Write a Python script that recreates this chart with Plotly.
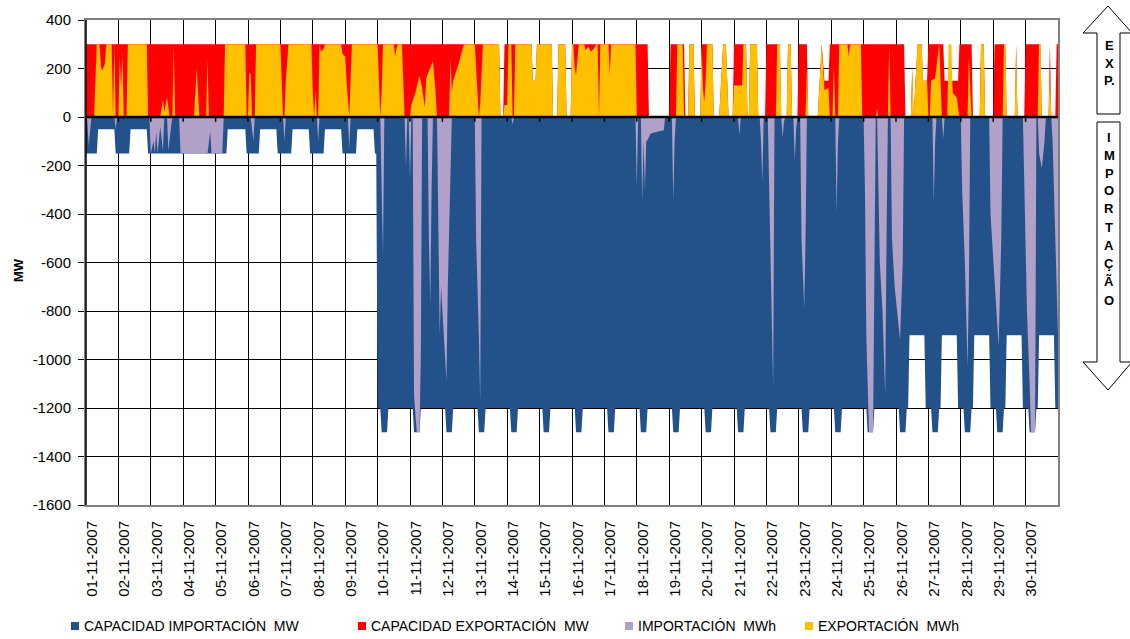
import plotly.graph_objects as go

# ---------------- DATA (hour of month, MW) ----------------
DAY_LABELS = ["01-11-2007", "02-11-2007", "03-11-2007", "04-11-2007", "05-11-2007",
              "06-11-2007", "07-11-2007", "08-11-2007", "09-11-2007", "10-11-2007",
              "11-11-2007", "12-11-2007", "13-11-2007", "14-11-2007", "15-11-2007",
              "16-11-2007", "17-11-2007", "18-11-2007", "19-11-2007", "20-11-2007",
              "21-11-2007", "22-11-2007", "23-11-2007", "24-11-2007", "25-11-2007",
              "26-11-2007", "27-11-2007", "28-11-2007", "29-11-2007", "30-11-2007"]

Y_TICKS = [400, 200, 0, -200, -400, -600, -800, -1000, -1200, -1400, -1600]
Y_LABELS = ["400", "200", "0", "-200", "-400", "-600", "-800", "-1000", "-1200", "-1400", "-1600"]

SERIES_NAMES = ["CAPACIDAD IMPORTACIÓN  MW", "CAPACIDAD EXPORTACIÓN  MW",
                "IMPORTACIÓN  MWh", "EXPORTACIÓN  MWh"]

CAP_IMPORT = [
    (0, -150), (8, -150), (9, -50), (21, -50), (22, -150),
    (32, -150), (33, -50), (45, -50), (46, -150),
    (104, -150), (105, -50), (118, -50), (119, -150),
    (128, -150), (129, -50), (141, -50), (142, -150),
    (152, -150), (153, -50), (165, -50), (166, -150),
    (176, -150), (177, -50), (189, -50), (190, -150),
    (200, -150), (201, -50), (213, -50), (214, -150), (215, -150), (216, -1200),
    (218, -1200), (219, -1300), (223, -1300), (224, -1200),
    (242, -1200), (243, -1300), (247, -1300), (248, -1200),
    (266, -1200), (267, -1300), (271, -1300), (272, -1200),
    (290, -1200), (291, -1300), (295, -1300), (296, -1200),
    (314, -1200), (315, -1300), (319, -1300), (320, -1200),
    (338, -1200), (339, -1300), (343, -1300), (344, -1200),
    (362, -1200), (363, -1300), (367, -1300), (368, -1200),
    (386, -1200), (387, -1300), (391, -1300), (392, -1200),
    (410, -1200), (411, -1300), (415, -1300), (416, -1200),
    (434, -1200), (435, -1300), (439, -1300), (440, -1200),
    (458, -1200), (459, -1300), (463, -1300), (464, -1200),
    (482, -1200), (483, -1300), (487, -1300), (488, -1200),
    (506, -1200), (507, -1300), (511, -1300), (512, -1200),
    (530, -1200), (531, -1300), (535, -1300), (536, -1200),
    (554, -1200), (555, -1300), (559, -1300), (560, -1200),
    (578, -1200), (579, -1300), (583, -1300), (584, -1200),
    (602, -1200), (603, -1300), (607, -1300), (608, -1200),
    (609, -1200), (610, -900), (621, -900), (622, -1200),
    (626, -1200), (627, -1300), (631, -1300), (632, -1200),
    (633, -1200), (634, -900), (645, -900), (646, -1200),
    (650, -1200), (651, -1300), (655, -1300), (656, -1200),
    (657, -1200), (658, -900), (669, -900), (670, -1200),
    (674, -1200), (675, -1300), (679, -1300), (680, -1200),
    (681, -1200), (682, -900), (693, -900), (694, -1200),
    (698, -1200), (699, -1300), (703, -1300), (704, -1200),
    (705, -1200), (706, -900), (717, -900), (718, -1200), (720, -1200),
]

CAP_EXPORT = [
    (0, 300), (306, 300), (307, 0), (309, 0), (310, 300),
    (330, 300), (331, 150), (333, 150), (334, 300),
    (345, 300), (346, 0), (349, 0), (350, 300),
    (355, 300), (356, 0), (359, 0), (360, 300),
    (416, 300), (417, 0), (432, 0), (433, 300),
    (443, 300), (444, 0), (446, 0), (447, 300), (450, 300), (451, 0),
    (455, 0), (456, 300), (464, 300), (465, 0),
    (469, 0), (470, 100), (472, 300), (474, 300), (476, 0),
    (479, 0), (480, 300), (489, 300), (490, 0),
    (491, 0), (492, 300), (497, 300), (498, 0),
    (503, 0), (504, 300), (514, 300), (515, 0),
    (519, 0), (520, 300), (522, 300), (523, 0),
    (527, 0), (528, 300), (534, 300), (535, 0),
    (542, 0), (545, 300), (547, 150), (550, 150), (551, 300),
    (606, 300), (607, 0), (611, 0), (612, 200), (613, 0), (614, 100),
    (616, 300), (619, 300), (620, 150), (623, 150), (624, 300),
    (635, 300), (636, 150), (646, 150), (647, 300),
    (656, 300), (657, 0), (662, 0), (663, 300), (665, 300), (666, 0),
    (672, 0), (673, 300), (681, 300), (682, 0),
    (688, 0), (689, 300), (690, 0), (695, 0), (696, 300),
    (707, 300), (708, 0), (713, 0), (714, 300), (715, 0),
    (718, 0), (719, 300), (720, 300),
]

IMPORT = [
    (0, 0), (1, -20), (2, -120), (3, -60), (4, 0),
    (21, 0), (22, -50), (23, 0),
    (47, 0), (48, -150), (50, -100), (51, -150), (52, -60), (53, -150),
    (55, -40), (57, -140), (58, 0),
    (60, 0), (61, -140), (63, -40), (64, 0),
    (69, 0), (70, -150), (90, -150), (91, -100), (92, -60), (93, -150),
    (101, -150), (102, 0),
    (122, 0), (124, -100), (125, 0),
    (146, 0), (147, -100), (148, 0),
    (171, 0), (172, -100), (173, 0),
    (194, 0), (195, -130), (196, 0),
    (218, 0), (219, -300), (220, -570), (221, 0),
    (236, 0), (237, -205), (238, 0),
    (239, 0), (240, -260), (241, 0),
    (242, 0), (243, -1150), (245, -1300), (247, -1300), (248, -1000), (249, 0),
    (253, 0), (254, -500), (255, -775), (256, -300), (257, 0),
    (260, 0), (261, -600), (262, -900), (263, -700), (264, -800), (266, -1000),
    (267, -1090), (268, -700), (270, -300), (271, 0),
    (288, 0), (289, -510), (291, -900), (292, -1180), (293, 0),
    (315, 0), (316, -30), (317, 0),
    (407, 0), (408, -290), (409, 0),
    (411, 0), (412, -350), (413, -100), (414, -300), (415, -100), (416, -95),
    (418, -70), (420, -65), (424, -60), (428, -55), (429, 0),
    (434, 0), (435, -350), (436, -100), (437, 0),
    (483, 0), (484, -74), (485, 0),
    (499, 0), (500, -100), (501, -267), (502, 0),
    (505, 0), (506, -300), (507, -600), (509, -1118), (510, 0),
    (515, 0), (516, -87), (517, -20), (518, 0),
    (524, 0), (525, -184), (526, -50), (527, 0),
    (529, 0), (530, -500), (532, -788), (533, -500), (534, 0),
    (555, 0), (556, -397), (557, -100), (558, 0),
    (576, 0), (577, -300), (578, -900), (580, -1300), (583, -1300), (584, -600), (585, 0),
    (586, 0), (587, -300), (588, -600), (590, -800), (592, -1146), (593, -500), (594, 0),
    (596, 0), (597, -500), (599, -700), (601, -800), (603, -920), (605, -600), (606, 0),
    (627, 0), (628, -356), (629, -100), (630, 0),
    (634, 0), (635, -90), (636, 0),
    (648, 0), (649, -300), (651, -600), (653, -1030), (654, -700), (655, 0),
    (669, 0), (670, -400), (672, -600), (674, -800), (676, -947), (678, -500), (679, 0),
    (694, 0), (695, -300), (697, -800), (699, -1100), (700, -1300), (703, -1300), (704, 0),
    (705, 0), (706, -150), (708, -211), (710, -100), (711, 0),
    (715, 0), (716, -100), (717, -300), (718, -600), (719, -800), (720, -900),
]

EXPORT = [
    (0, 0), (6, 0), (7, 150), (8, 300), (10, 300), (11, 210), (12, 190), (14, 220),
    (15, 300), (19, 300), (20, 0), (21, 300), (22, 0), (24, 0), (25, 250), (26, 120),
    (27, 260), (28, 0), (30, 0), (31, 300), (45, 300), (46, 0), (55, 0), (57, 70),
    (58, 20), (60, 80), (62, 0), (64, 0), (65, 300), (66, 0), (80, 0), (82, 200),
    (84, 0), (89, 0), (90, 240), (91, 0), (102, 0), (103, 300), (118, 300), (119, 0),
    (120, 0), (121, 180), (122, 180), (123, 0), (125, 0), (126, 300), (144, 300),
    (145, 150), (146, 0), (147, 0), (148, 150), (150, 300), (167, 300), (168, 100),
    (169, 0), (170, 110), (171, 0), (172, 0), (173, 300), (174, 270), (176, 280),
    (177, 300), (189, 300), (190, 260), (192, 250), (193, 150), (195, 0), (196, 150),
    (197, 300), (216, 300), (217, 100), (218, 0), (219, 100), (220, 300),
    (228, 300), (229, 250), (230, 280), (231, 300), (234, 300), (235, 100), (236, 0),
    (240, 0), (241, 50), (244, 100), (247, 170), (249, 120), (251, 40), (252, 160),
    (255, 200), (257, 230), (259, 100), (260, 0), (269, 0), (270, 240), (271, 100),
    (272, 150), (276, 220), (280, 300), (288, 300), (290, 100), (291, 0), (292, 50),
    (294, 300), (306, 300), (307, 0), (309, 0), (310, 50), (312, 50), (313, 300),
    (315, 300), (316, 0), (317, 0), (318, 300), (330, 300), (331, 150), (333, 150),
    (334, 300), (345, 300), (346, 0), (349, 0), (350, 300), (355, 300), (356, 0),
    (359, 0), (360, 300), (361, 300), (362, 200), (363, 172), (364, 250), (365, 300),
    (369, 300), (370, 275), (372, 290), (374, 270), (376, 280), (378, 300),
    (379, 300), (380, 0), (381, 300), (387, 300), (388, 172), (389, 300),
    (407, 300), (408, 0), (437, 0), (438, 300), (442, 300), (443, 0),
    (446, 0), (447, 300), (450, 300), (451, 0),
    (455, 0), (456, 300), (457, 120), (458, 60), (459, 150), (460, 300), (464, 300), (465, 0),
    (469, 0), (470, 100), (472, 300), (474, 300), (476, 0),
    (479, 0), (480, 130), (486, 130), (487, 300), (489, 300), (490, 0),
    (491, 0), (492, 300), (497, 300), (498, 0),
    (503, 0), (511, 0), (512, 300), (514, 300), (515, 0),
    (519, 0), (520, 300), (522, 300), (523, 0),
    (527, 0), (533, 0), (534, 200), (535, 0),
    (542, 0), (545, 300), (547, 110), (550, 120), (551, 0), (553, 0), (554, 213),
    (555, 0), (557, 0), (558, 300), (564, 300), (565, 250), (566, 300), (574, 300),
    (575, 0), (585, 0), (586, 35), (587, 0), (594, 0), (595, 300), (596, 0),
    (611, 0), (612, 200), (613, 0), (614, 100), (616, 300), (619, 300), (620, 150),
    (623, 150), (624, 0), (625, 0), (626, 150), (629, 160), (631, 250), (632, 300),
    (634, 0), (638, 0), (639, 300), (641, 300), (642, 100), (645, 80), (647, 0),
    (653, 0), (654, 250), (656, 0), (662, 0), (663, 300), (665, 300), (666, 0),
    (679, 0), (680, 300), (681, 300), (682, 0), (688, 0), (689, 300), (690, 0),
    (705, 0), (706, 300), (707, 300), (708, 0), (713, 0), (714, 200), (715, 0),
    (720, 0),
]

COLORS = ["#23528A", "#FF0000", "#B1A0C7", "#FFC000"]

# ---------------- FIGURE ----------------
W, H = 1130, 639
PL, PR, PT, PB = 86, 1058, 20, 505  # plot area in pixels


def px(x):
    return (x - PL) / (PR - PL)


def py(y):
    return (PB - y) / (PB - PT)


fig = go.Figure()
for series, color in zip([CAP_IMPORT, CAP_EXPORT, IMPORT, EXPORT], COLORS):
    xs = [p[0] for p in series]
    ys = [p[1] for p in series]
    fig.add_trace(go.Scatter(x=xs, y=ys, mode="lines", fill="tozeroy",
                             line=dict(width=0, color=color), fillcolor=color,
                             hoverinfo="skip", showlegend=False))

font = "Arial, Liberation Sans, sans-serif"
day_ticks = [24 * i for i in range(len(DAY_LABELS))]

fig.update_layout(
    width=W, height=H,
    margin=dict(l=PL, r=W - PR, t=PT, b=H - PB, autoexpand=False),
    paper_bgcolor="white", plot_bgcolor="white",
    font=dict(family=font, size=14, color="#000000"),
    xaxis=dict(range=[0, 720], tickvals=day_ticks, ticktext=DAY_LABELS,
               tickangle=-90, ticklabelshift=6, ticks="", ticklabelstandoff=8,
               showgrid=True, gridcolor="#000000", gridwidth=1,
               showline=True, mirror=True, linecolor="#808080", linewidth=2,
               zeroline=False, tickfont=dict(size=15)),
    yaxis=dict(range=[-1600, 400], tickvals=Y_TICKS, ticktext=Y_LABELS,
               showgrid=True, gridcolor="#000000",
               gridwidth=1, showline=True, mirror=True, linecolor="#808080",
               linewidth=2, ticks="outside", ticklen=6, tickcolor="#000000",
               ticklabelstandoff=4,
               zeroline=False, tickfont=dict(size=15)),
)

shapes = []
# black axis at zero and left axis
shapes.append(dict(type="line", xref="paper", yref="y", x0=0, x1=1, y0=0, y1=0,
                   line=dict(color="#000000", width=2.5), layer="above"))
shapes.append(dict(type="line", xref="paper", yref="paper", x0=0, x1=0, y0=0, y1=1,
                   line=dict(color="#000000", width=1.5), layer="above"))
for t in day_ticks:
    shapes.append(dict(type="line", xref="x", yref="y", x0=t, x1=t, y0=0, y1=-20,
                       line=dict(color="#000000", width=1.5), layer="above"))

# arrows on the right
up = [(1097, 114), (1097, 33), (1083, 33), (1108, 6), (1132, 33), (1120, 33), (1120, 114)]
down = [(1097, 122), (1120, 122), (1120, 362), (1132, 362), (1108, 390), (1083, 362), (1097, 362)]
for poly in (up, down):
    path = "M " + " L ".join(f"{px(a):.5f},{py(b):.5f}" for a, b in poly) + " Z"
    shapes.append(dict(type="path", xref="paper", yref="paper", path=path,
                       line=dict(color="#000000", width=1), fillcolor="white"))

annotations = []
# y-axis title
annotations.append(dict(text="<b>MW</b>", x=px(18), y=py(270), xref="paper", yref="paper",
                        xanchor="center", yanchor="middle", textangle=-90,
                        showarrow=False, font=dict(size=13)))
for letter, yy in zip(["E", "X", "P."], [45, 63, 80]):
    annotations.append(dict(text=f"<b>{letter}</b>", x=px(1109), y=py(yy), xref="paper",
                            yref="paper", xanchor="center", yanchor="middle",
                            showarrow=False, font=dict(size=13), borderpad=0))
for letter, yy in zip(list("IMPORTAÇÃO"), [137, 155, 173, 191, 209, 227, 245, 263, 281, 300]):
    annotations.append(dict(text=f"<b>{letter}</b>", x=px(1109), y=py(yy), xref="paper",
                            yref="paper", xanchor="center", yanchor="middle",
                            showarrow=False, font=dict(size=13), borderpad=0))

# legend
leg_x = [71, 358, 625, 805]
for name, color, lx in zip(SERIES_NAMES, COLORS, leg_x):
    shapes.append(dict(type="rect", xref="paper", yref="paper", x0=px(lx), x1=px(lx + 8),
                       y0=py(630), y1=py(622), fillcolor=color, line=dict(width=0)))
    annotations.append(dict(text=name, x=px(lx + 11), y=py(626), xref="paper", yref="paper",
                            xanchor="left", yanchor="middle", showarrow=False,
                            font=dict(size=14)))

fig.update_layout(shapes=shapes, annotations=annotations)
fig.write_html("out.html", config={"displayModeBar": False},
               post_script="document.body.style.margin='0px';")
